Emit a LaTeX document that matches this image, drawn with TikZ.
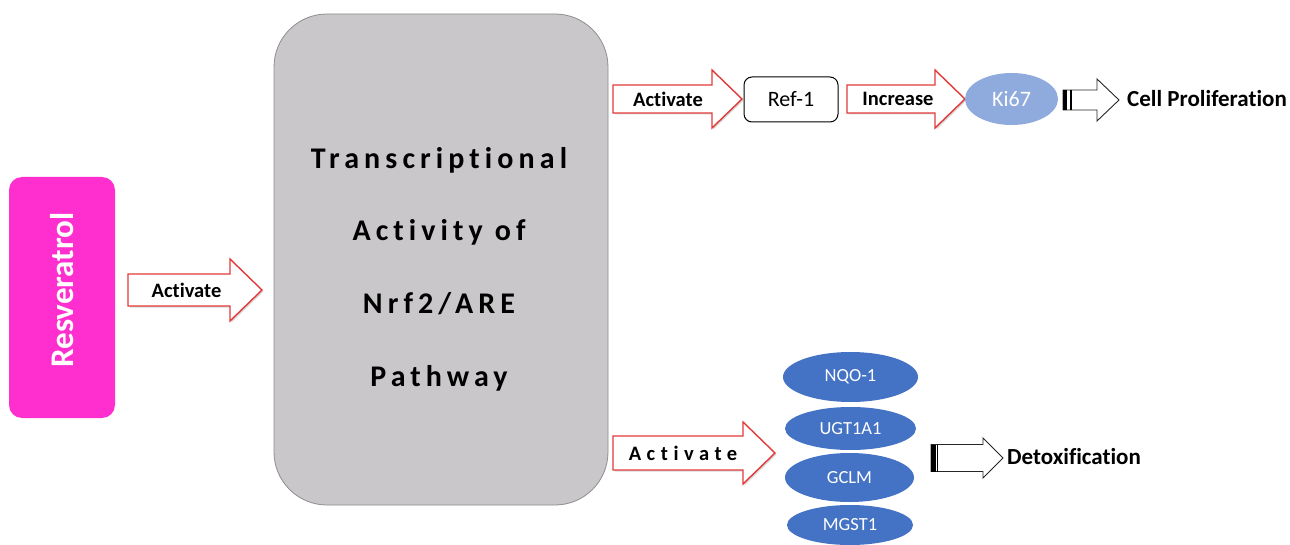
\documentclass[tikz,border=0pt]{standalone}
\usepackage{fontspec}
\setmainfont{Carlito}[Ligatures=NoCommon]
\usetikzlibrary{shapes.geometric,shadows}
\definecolor{magentabox}{HTML}{FF2FCF}
\definecolor{graybox}{HTML}{C9C7C9}
\definecolor{grayborder}{HTML}{8E8E8E}
\definecolor{kiblue}{HTML}{8FAADC}
\definecolor{enzblue}{HTML}{4472C4}
\definecolor{arrowred}{HTML}{E23A3A}
\newcommand{\blockarr}[7]{%
  \path[#1] (#2,#5-#6) -- (#3,#5-#6) -- (#3,#5-#7) -- (#4,#5) -- (#3,#5+#7) -- (#3,#5+#6) -- (#2,#5+#6) -- cycle;}
\tikzset{
  redarrow/.style={draw=arrowred, line width=1.4pt, fill=white, line join=miter,
    drop shadow={shadow xshift=1.5pt, shadow yshift=-1.5pt, opacity=0.3}},
  blackarrow/.style={draw=black!85, line width=0.9pt, fill=white, line join=miter},
  lbl/.style={font=\fontsize{20.5}{23}\selectfont\bfseries, text=black, inner sep=0pt},
  enz/.style={ellipse, fill=enzblue, inner sep=0pt, outer sep=0pt, text=white,
    font=\fontsize{18.5}{20}\selectfont},
  outcome/.style={anchor=west, inner sep=0pt, font=\fontsize{23}{26}\selectfont\bfseries}
}
\begin{document}
\begin{tikzpicture}[x=1pt,y=-1pt]
\useasboundingbox (0,0) rectangle (1290,545);
\fill[white] (0,0) rectangle (1290,545);
% Resveratrol
\node[fill=magentabox, rounded corners=13pt, minimum width=106pt, minimum height=241pt, inner sep=0pt] (res) at (62,297.5) {};
\node[rotate=90, text=white, inner sep=0pt, font=\fontsize{33}{36}\selectfont\bfseries] (restext) at (62,290) {Resveratrol};
% central box
\node[fill=graybox, draw=grayborder, line width=0.8pt, rounded corners=53pt, minimum width=334pt, minimum height=491pt, inner sep=0pt] (nrf) at (441,259.5) {};
\node[align=center, inner sep=0pt, font=\fontsize{30}{72.7}\selectfont\bfseries\addfontfeature{LetterSpace=17}] (nrftext) at (439,269)
  {Transcriptional\\Activity of\\Nrf2/ARE\\Pathway};
% arrows
\blockarr{redarrow}{128}{230}{262}{290}{16}{31}
\node[lbl] (a1) at (186.5,290) {Activate};
\blockarr{redarrow}{613}{712}{742}{99}{14}{29}
\node[lbl] (a2) at (668,99) {Activate};
\node[draw=black, line width=1pt, rounded corners=8pt, fill=white, minimum width=94pt, minimum height=45pt, inner sep=0pt, font=\fontsize{22}{24}\selectfont] (ref) at (791,99.5) {Ref-1};
\blockarr{redarrow}{847}{935}{965}{99}{14}{29}
\node[lbl] (a3) at (898,99) {Increase};
\node[ellipse, fill=kiblue, minimum width=93pt, minimum height=52pt, inner sep=0pt, text=white, font=\fontsize{22}{24}\selectfont] (ki) at (1011.5,99) {Ki67};
\blockarr{blackarrow}{1063}{1097}{1119}{100}{10}{21}
\fill[black] (1063,90) rectangle (1067,110);
\fill[black] (1069.5,90) rectangle (1072,110);
\node[outcome] (cell) at (1127,99) {Cell Proliferation};
% bottom
\blockarr{redarrow}{613}{743}{775}{453}{17}{31}
\node[lbl, font=\fontsize{20.5}{23}\selectfont\bfseries\addfontfeature{LetterSpace=27}] (a4) at (683,453) {Activate};
\node[enz, minimum width=135pt, minimum height=50pt] (nqo) at (850.5,377) {NQO-1};
\node[enz, minimum width=131pt, minimum height=43pt] (ugt) at (850.5,428.5) {UGT1A1};
\node[enz, minimum width=129pt, minimum height=49pt] (gclm) at (849.5,477.5) {GCLM};
\node[enz, minimum width=126pt, minimum height=40pt] (mgst) at (850,525) {MGST1};
\blockarr{blackarrow}{931}{983}{1003}{458}{13.5}{20}
\fill[black] (931,444.5) rectangle (935.5,471.5);
\fill[black] (936.5,444.5) rectangle (938,471.5);
\node[outcome] (detox) at (1007,457) {Detoxification};
\end{tikzpicture}
\end{document}
